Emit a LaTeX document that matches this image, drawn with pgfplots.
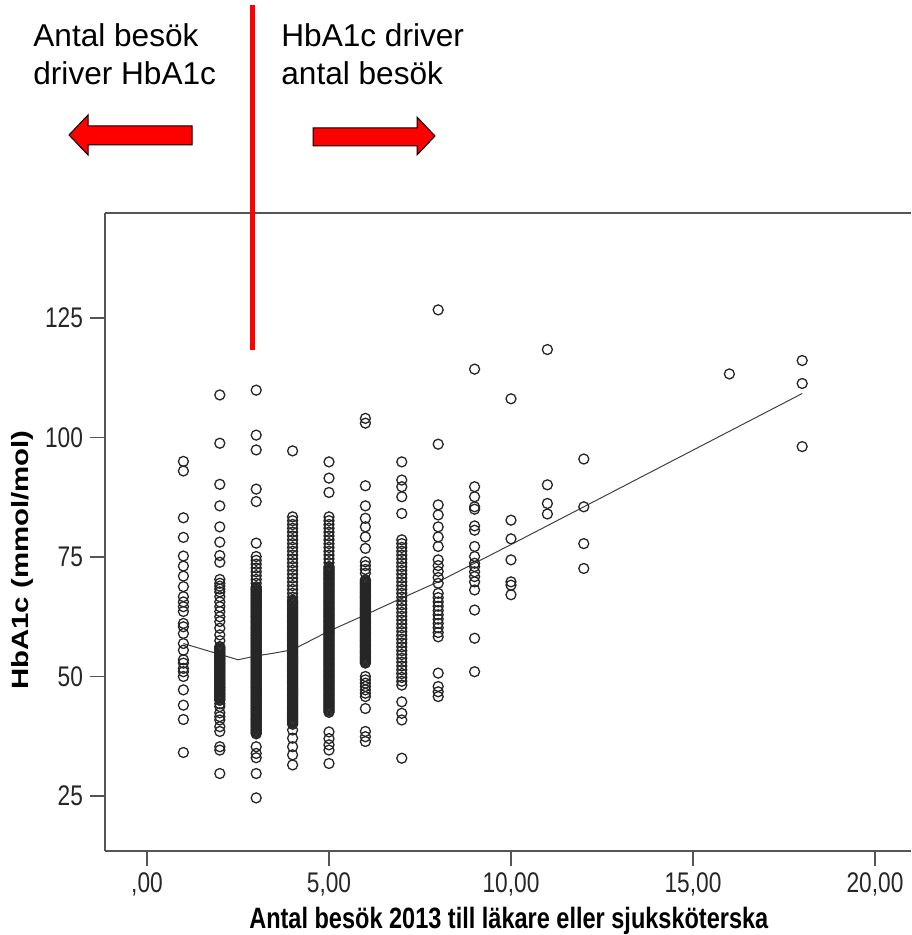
\documentclass[border=0pt]{standalone}
\usepackage{fontspec}
\setmainfont{Liberation Sans}
\newfontfamily\narrowfont[FakeStretch=0.8]{Liberation Sans}
\usepackage{graphicx}
\usepackage{pgfplots}
\pgfplotsset{compat=1.18}
\definecolor{axisgray}{RGB}{85,85,85}
\definecolor{annored}{RGB}{255,0,0}
\pgfplotsset{ring/.style={only marks, mark=o, black!85, mark size=2.5pt, mark options={line width=0.65pt}}}

\begin{document}
\begin{tikzpicture}
\useasboundingbox (0,0) rectangle (455.5pt,467.5pt);
\begin{axis}[
  at={(52.5pt,42pt)}, anchor=south west,
  scale only axis, width=403pt, height=319pt,
  xmin=-1.154, xmax=20.99, ymin=13.49, ymax=146.97,
  axis lines*=left,
  axis line style={axisgray, line width=0.9pt},
  tick align=outside, major tick length=7.5pt,
  tick style={axisgray, line width=0.9pt},
  xtick={0,5,10,15,20},
  xticklabels={{,00},{5,00},{10,00},{15,00},{20,00}},
  ytick={25,50,75,100,125},
  yticklabels={25,50,75,100,125},
  /pgf/number format/assume math mode=true,
  tick label style={font=\narrowfont\fontsize{14.2}{16}\selectfont, text=black!85},
  xlabel={Antal besök 2013 till läkare eller sjuksköterska},
  xlabel style={font=\narrowfont\bfseries\fontsize{14.7}{17}\selectfont,
    at={(axis description cs:0.501,-0.1207)}, anchor=base},
  ylabel={\scalebox{1}[0.8]{HbA1c (mmol/mol)}},
  ylabel style={font=\bfseries\fontsize{14.7}{17}\selectfont,
    at={(axis description cs:-0.103,0.456)}, anchor=center},
  clip=false,
]
% x = 1
\addplot[ring] coordinates {
(1,95) (1,93) (1,83.2) (1,79.1) (1,75.2) (1,73.1) (1,71.0) (1,68.8) (1,66.7) (1,65.6)
(1,64.6) (1,63.6) (1,61.1) (1,60.4) (1,59.0) (1,56.9) (1,55.5) (1,53.5) (1,52.8) (1,51.7)
(1,51.0) (1,50.0) (1,47.2) (1,44.0) (1,41.0) (1,34.1)
};
% x = 2
\addplot[ring] coordinates {
(2,108.9) (2,98.8) (2,90.2) (2,85.7) (2,81.3) (2,78.1) (2,75.3) (2,73.9) (2,70.3) (2,69.5)
(2,68.9) (2,68.3) (2,67.7) (2,66.7) (2,65.6) (2,64.6) (2,63.6) (2,62.5) (2,61.5) (2,60.1)
(2,58.7) (2,57.5) (2,56.25) (2,56) (2,55.75) (2,55.5) (2,55.25) (2,55) (2,54.75) (2,54.5)
(2,54.25) (2,54) (2,53.75) (2,53.5) (2,53.25) (2,53) (2,52.75) (2,52.5) (2,52.25) (2,52)
(2,51.75) (2,51.5) (2,51.25) (2,51) (2,50.75) (2,50.5) (2,50.25) (2,50) (2,49.75) (2,49.5)
(2,49.25) (2,49) (2,48.75) (2,48.5) (2,48.25) (2,48) (2,47.75) (2,47.5) (2,47.25) (2,47)
(2,46.75) (2,46.5) (2,46.25) (2,46) (2,45.75) (2,45.5) (2,45.25) (2,45) (2,44.3) (2,43.7)
(2,42.4) (2,41.6) (2,40.9) (2,39.5) (2,38.5) (2,35.3) (2,34.6) (2,29.7)
};
% x = 3
\addplot[ring] coordinates {
(3,109.9) (3,100.5) (3,97.4) (3,89.2) (3,86.6) (3,77.9) (3,75.1) (3,74.3) (3,73.5) (3,72.7)
(3,71.9) (3,71.1) (3,70.3) (3,69.5) (3,68.75) (3,68.5) (3,68.25) (3,68) (3,67.75) (3,67.5)
(3,67.25) (3,67) (3,66.75) (3,66.5) (3,66.25) (3,66) (3,65.75) (3,65.5) (3,65.25) (3,65)
(3,64.75) (3,64.5) (3,64.25) (3,64) (3,63.75) (3,63.5) (3,63.25) (3,63) (3,62.75) (3,62.5)
(3,62.25) (3,62) (3,61.75) (3,61.5) (3,61.25) (3,61) (3,60.75) (3,60.5) (3,60.25) (3,60)
(3,59.75) (3,59.5) (3,59.25) (3,59) (3,58.75) (3,58.5) (3,58.25) (3,58) (3,57.75) (3,57.5)
(3,57.25) (3,57) (3,56.75) (3,56.5) (3,56.25) (3,56) (3,55.75) (3,55.5) (3,55.25) (3,55)
(3,54.75) (3,54.5) (3,54.25) (3,54) (3,53.75) (3,53.5) (3,53.25) (3,53) (3,52.75) (3,52.5)
(3,52.25) (3,52) (3,51.75) (3,51.5) (3,51.25) (3,51) (3,50.75) (3,50.5) (3,50.25) (3,50)
(3,49.75) (3,49.5) (3,49.25) (3,49) (3,48.75) (3,48.5) (3,48.25) (3,48) (3,47.75) (3,47.5)
(3,47.25) (3,47) (3,46.75) (3,46.5) (3,46.25) (3,46) (3,45.75) (3,45.5) (3,45.25) (3,45)
(3,44.75) (3,44.5) (3,44.25) (3,44) (3,43.75) (3,43.5) (3,43.25) (3,43) (3,42.75) (3,42.5)
(3,42.25) (3,42) (3,41.75) (3,41.5) (3,41.25) (3,41) (3,40.75) (3,40.5) (3,40.25) (3,40)
(3,39.75) (3,39.5) (3,39.25) (3,39) (3,38.75) (3,38.5) (3,38.25) (3,38) (3,35.3) (3,33.9)
(3,33.0) (3,29.7) (3,24.6)
};
% x = 4
\addplot[ring] coordinates {
(4,97.2) (4,83.4) (4,82.6) (4,81.8) (4,81) (4,80.2) (4,79.4) (4,78.6) (4,77.8) (4,77)
(4,76.2) (4,75.4) (4,74.6) (4,73.8) (4,73) (4,72.2) (4,71.4) (4,70.6) (4,69.8) (4,69)
(4,68.2) (4,67.4) (4,66.6) (4,66) (4,65.75) (4,65.5) (4,65.25) (4,65) (4,64.75) (4,64.5)
(4,64.25) (4,64) (4,63.75) (4,63.5) (4,63.25) (4,63) (4,62.75) (4,62.5) (4,62.25) (4,62)
(4,61.75) (4,61.5) (4,61.25) (4,61) (4,60.75) (4,60.5) (4,60.25) (4,60) (4,59.75) (4,59.5)
(4,59.25) (4,59) (4,58.75) (4,58.5) (4,58.25) (4,58) (4,57.75) (4,57.5) (4,57.25) (4,57)
(4,56.75) (4,56.5) (4,56.25) (4,56) (4,55.75) (4,55.5) (4,55.25) (4,55) (4,54.75) (4,54.5)
(4,54.25) (4,54) (4,53.75) (4,53.5) (4,53.25) (4,53) (4,52.75) (4,52.5) (4,52.25) (4,52)
(4,51.75) (4,51.5) (4,51.25) (4,51) (4,50.75) (4,50.5) (4,50.25) (4,50) (4,49.75) (4,49.5)
(4,49.25) (4,49) (4,48.75) (4,48.5) (4,48.25) (4,48) (4,47.75) (4,47.5) (4,47.25) (4,47)
(4,46.75) (4,46.5) (4,46.25) (4,46) (4,45.75) (4,45.5) (4,45.25) (4,45) (4,44.75) (4,44.5)
(4,44.25) (4,44) (4,43.75) (4,43.5) (4,43.25) (4,43) (4,42.75) (4,42.5) (4,42.25) (4,42)
(4,41.75) (4,41.5) (4,41.25) (4,41) (4,40.75) (4,40.5) (4,40.25) (4,40) (4,38.8) (4,37.1)
(4,35.3) (4,33.6) (4,31.5)
};
% x = 5
\addplot[ring] coordinates {
(5,94.9) (5,91.5) (5,88.5) (5,83.4) (5,82.6) (5,81.8) (5,81) (5,80.2) (5,79.4) (5,78.6)
(5,77.8) (5,77) (5,76.2) (5,75.4) (5,74.6) (5,73.8) (5,73) (5,72.75) (5,72.5) (5,72.25)
(5,72) (5,71.75) (5,71.5) (5,71.25) (5,71) (5,70.75) (5,70.5) (5,70.25) (5,70) (5,69.75)
(5,69.5) (5,69.25) (5,69) (5,68.75) (5,68.5) (5,68.25) (5,68) (5,67.75) (5,67.5) (5,67.25)
(5,67) (5,66.75) (5,66.5) (5,66.25) (5,66) (5,65.75) (5,65.5) (5,65.25) (5,65) (5,64.75)
(5,64.5) (5,64.25) (5,64) (5,63.75) (5,63.5) (5,63.25) (5,63) (5,62.75) (5,62.5) (5,62.25)
(5,62) (5,61.75) (5,61.5) (5,61.25) (5,61) (5,60.75) (5,60.5) (5,60.25) (5,60) (5,59.75)
(5,59.5) (5,59.25) (5,59) (5,58.75) (5,58.5) (5,58.25) (5,58) (5,57.75) (5,57.5) (5,57.25)
(5,57) (5,56.75) (5,56.5) (5,56.25) (5,56) (5,55.75) (5,55.5) (5,55.25) (5,55) (5,54.75)
(5,54.5) (5,54.25) (5,54) (5,53.75) (5,53.5) (5,53.25) (5,53) (5,52.75) (5,52.5) (5,52.25)
(5,52) (5,51.75) (5,51.5) (5,51.25) (5,51) (5,50.75) (5,50.5) (5,50.25) (5,50) (5,49.75)
(5,49.5) (5,49.25) (5,49) (5,48.75) (5,48.5) (5,48.25) (5,48) (5,47.75) (5,47.5) (5,47.25)
(5,47) (5,46.75) (5,46.5) (5,46.25) (5,46) (5,45.75) (5,45.5) (5,45.25) (5,45) (5,44.75)
(5,44.5) (5,44.25) (5,44) (5,43.75) (5,43.5) (5,43.25) (5,43) (5,42.75) (5,42.5) (5,38.4)
(5,37.0) (5,35.7) (5,34.6) (5,31.8)
};
% x = 6
\addplot[ring] coordinates {
(6,104.0) (6,103.0) (6,89.9) (6,85.7) (6,83.1) (6,81.3) (6,79.2) (6,76.8) (6,74.0) (6,73.2)
(6,72.4) (6,71.6) (6,70.25) (6,70) (6,69.75) (6,69.5) (6,69.25) (6,69) (6,68.75) (6,68.5)
(6,68.25) (6,68) (6,67.75) (6,67.5) (6,67.25) (6,67) (6,66.75) (6,66.5) (6,66.25) (6,66)
(6,65.75) (6,65.5) (6,65.25) (6,65) (6,64.75) (6,64.5) (6,64.25) (6,64) (6,63.75) (6,63.5)
(6,63.25) (6,63) (6,62.75) (6,62.5) (6,62.25) (6,62) (6,61.75) (6,61.5) (6,61.25) (6,61)
(6,60.75) (6,60.5) (6,60.25) (6,60) (6,59.75) (6,59.5) (6,59.25) (6,59) (6,58.75) (6,58.5)
(6,58.25) (6,58) (6,57.75) (6,57.5) (6,57.25) (6,57) (6,56.75) (6,56.5) (6,56.25) (6,56)
(6,55.75) (6,55.5) (6,55.25) (6,55) (6,54.75) (6,54.5) (6,54.25) (6,54) (6,53.75) (6,53.5)
(6,53.25) (6,53) (6,52.8) (6,50.0) (6,49.3) (6,48.6) (6,47.9) (6,47.2) (6,46.5) (6,45.8)
(6,43.3) (6,38.5) (6,37.4) (6,36.4)
};
% x = 7
\addplot[ring] coordinates {
(7,94.9) (7,91.1) (7,89.7) (7,87.6) (7,84.1) (7,78.6) (7,77.8) (7,77) (7,76.2) (7,75.4)
(7,74.6) (7,73.8) (7,73) (7,72.2) (7,71.4) (7,70.6) (7,69.8) (7,69) (7,68.2) (7,67.4)
(7,66.6) (7,65.8) (7,65) (7,64.2) (7,63.4) (7,62.6) (7,61.8) (7,61) (7,60.2) (7,59.4)
(7,58.6) (7,57.8) (7,57) (7,56.2) (7,55.4) (7,54.6) (7,53.8) (7,53) (7,52.2) (7,51.4)
(7,50.6) (7,49.8) (7,49) (7,48.2) (7,44.7) (7,42.3) (7,40.9) (7,32.9)
};
% x = 8
\addplot[ring] coordinates {
(8,126.7) (8,98.6) (8,85.9) (8,83.8) (8,81.3) (8,79.2) (8,77.2) (8,74.4) (8,73.2) (8,72.0)
(8,70.7) (8,69.5) (8,67.4) (8,66.5) (8,65.6) (8,64.7) (8,63.8) (8,62.9) (8,62) (8,61.1)
(8,60.2) (8,59.2) (8,58.3) (8,50.7) (8,47.9) (8,46.8) (8,45.8)
};
% x = 9
\addplot[ring] coordinates {
(9,114.3) (9,89.7) (9,87.6) (9,85.5) (9,85.0) (9,81.5) (9,80.6) (9,77.2) (9,75.1) (9,73.7)
(9,73.0) (9,71.9) (9,70.9) (9,69.8) (9,68.1) (9,63.9) (9,58.0) (9,51.0)
};
% x = 10 ... 18
\addplot[ring] coordinates {
(10,108.1) (10,82.7) (10,78.8) (10,74.4) (10,69.8) (10,69.1) (10,67.1)
(11,118.4) (11,90.1) (11,86.2) (11,84.0)
(12,95.5) (12,85.5) (12,77.8) (12,72.6)
(16,113.3)
(18,116.1) (18,111.3) (18,98.1)
};
% loess fit
\addplot[black!75, line width=0.5pt, no marks] coordinates {
(1,56.9) (2.5,53.5) (3,54.3) (3.5,54.9) (4,55.6) (5,59.5) (6,62.9) (7,66.4)
(8,69.8) (9,73.7) (10,77.6) (12,85.5) (18,109.2)
};
\end{axis}
\begin{scope}[x=0.5pt, y=-0.5pt, yshift=467.5pt]
  \draw[axisgray, line width=0.9pt] (104.6,213) -- (911,213);
  \draw[annored, line width=2.3pt] (252.5,5) -- (252.5,350);
  \filldraw[fill=annored, draw=black, line width=0.5pt]
    (69,135) -- (88,115) -- (88,126) -- (192,126) -- (192,145) -- (88,145) -- (88,155) -- cycle;
  \filldraw[fill=annored, draw=black, line width=0.5pt]
    (435,136) -- (417,117) -- (417,128) -- (313,128) -- (313,146) -- (417,146) -- (417,155) -- cycle;
  \node[anchor=base west, inner sep=0, font=\fontsize{15.8}{19}\selectfont] at (33,47) {Antal besök};
  \node[anchor=base west, inner sep=0, font=\fontsize{15.8}{19}\selectfont] at (33,85) {driver HbA1c};
  \node[anchor=base west, inner sep=0, font=\fontsize{15.8}{19}\selectfont] at (281,47) {HbA1c driver};
  \node[anchor=base west, inner sep=0, font=\fontsize{15.8}{19}\selectfont] at (281,85) {antal besök};
\end{scope}
\end{tikzpicture}
\end{document}
